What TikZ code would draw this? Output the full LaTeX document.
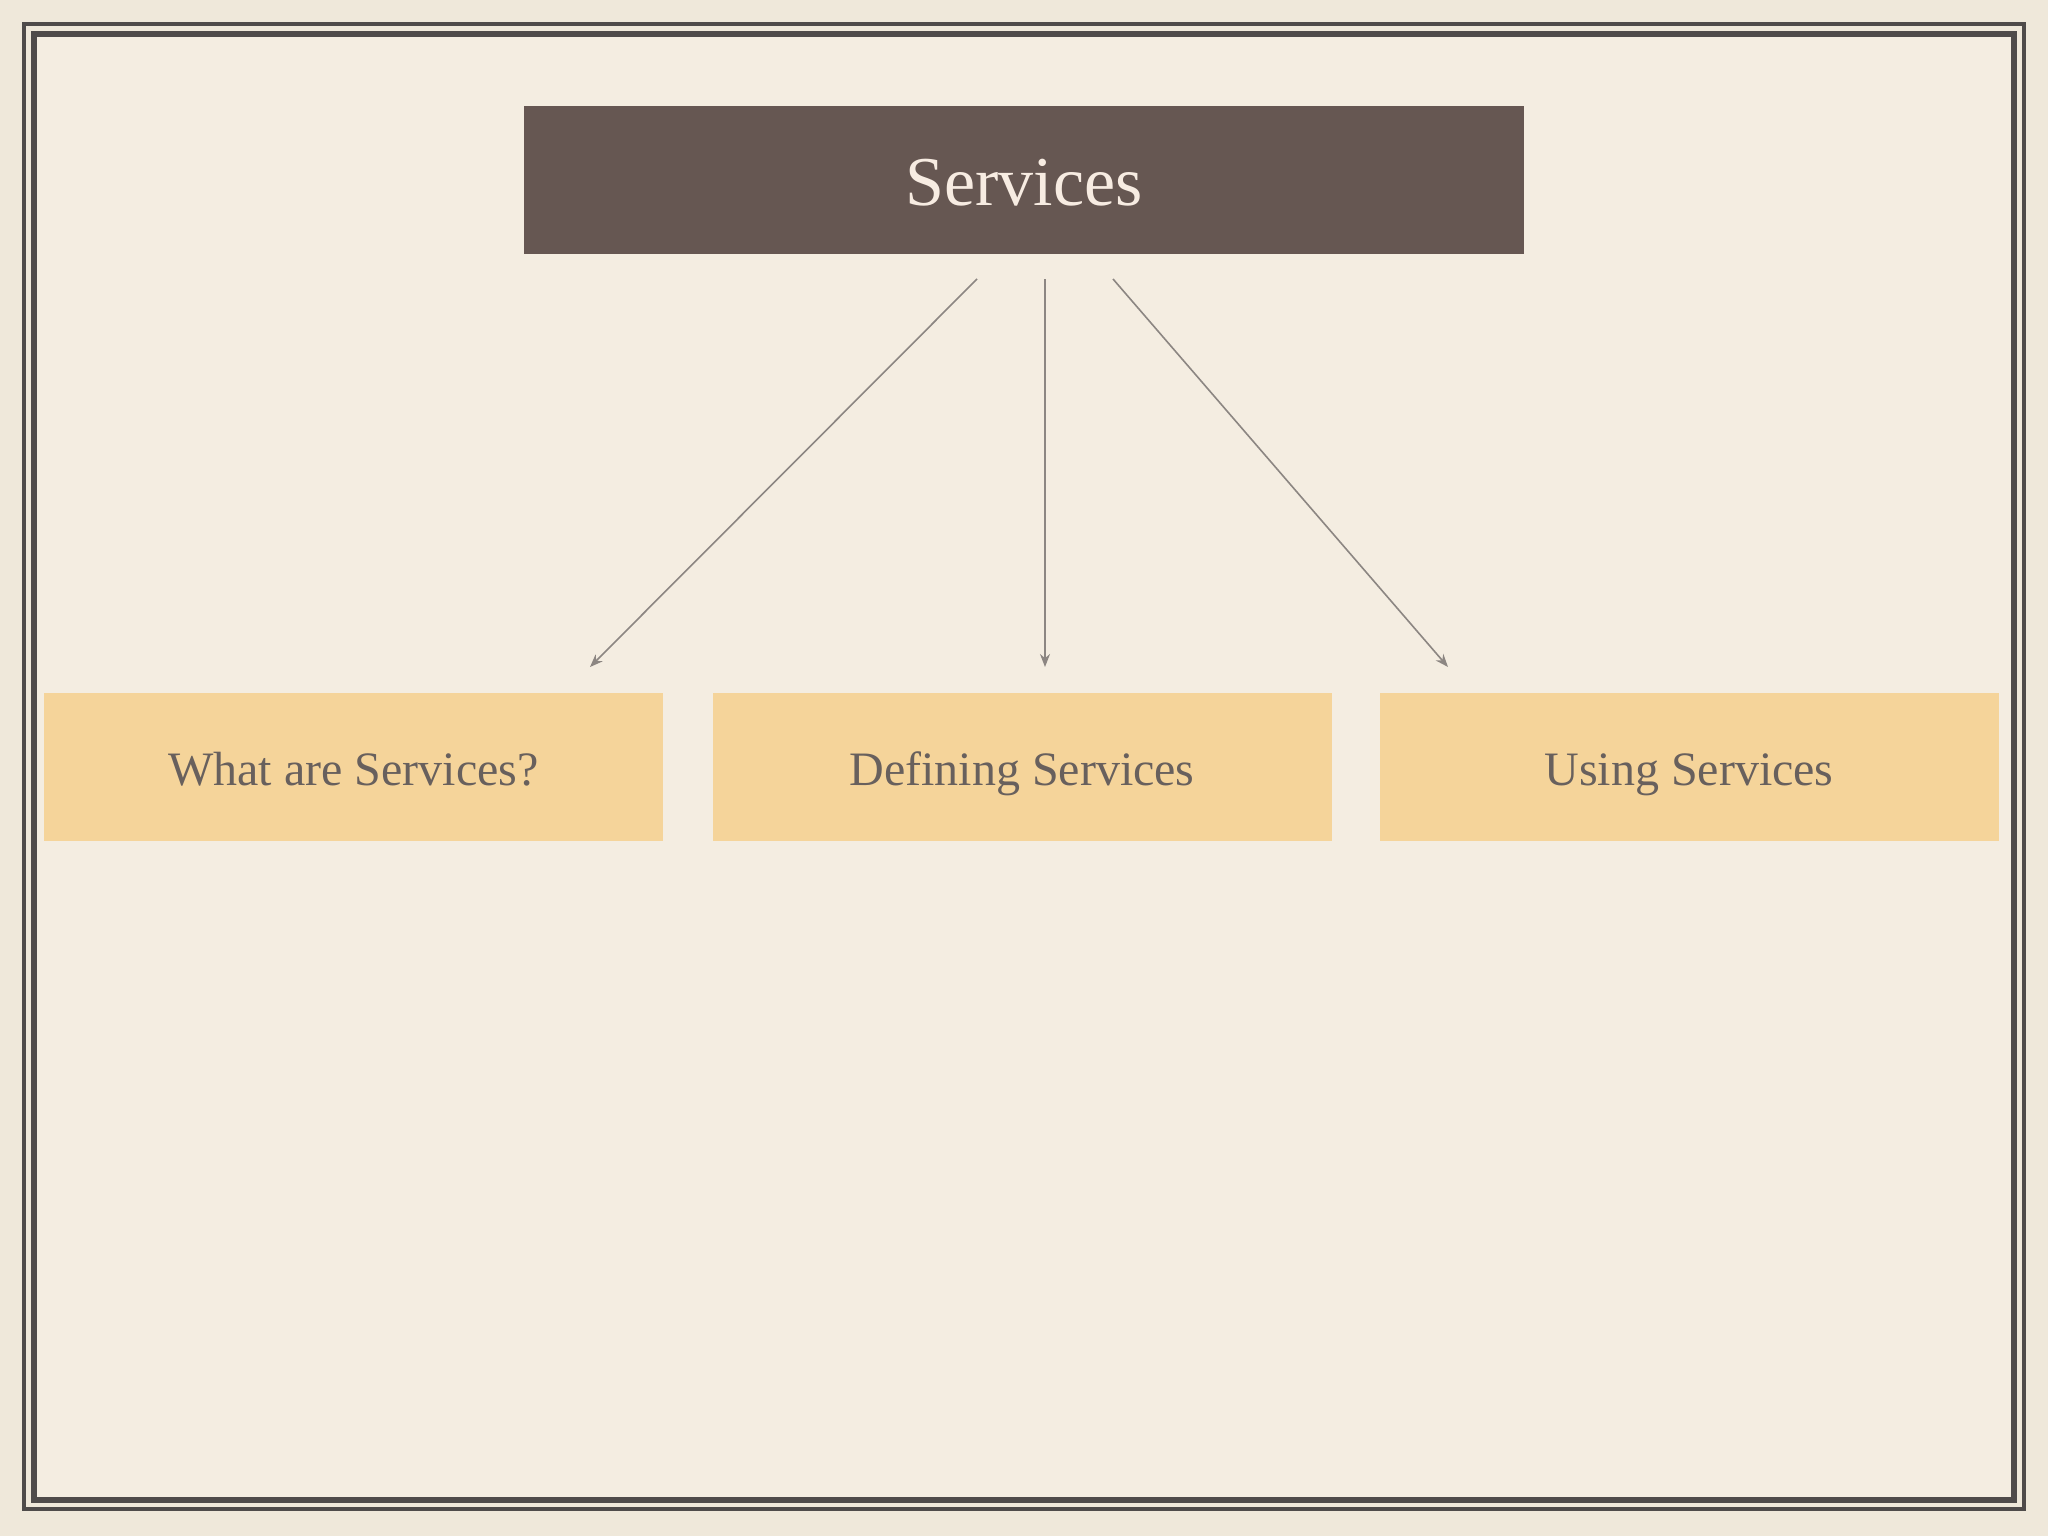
\documentclass[tikz,border=0pt]{standalone}
\usepackage{fontspec}
\setmainfont{Liberation Serif}
\usetikzlibrary{arrows.meta}
\definecolor{paper}{HTML}{F4EDE1}
\definecolor{paperout}{HTML}{EFE8DA}
\definecolor{framec}{HTML}{4F4B4A}
\definecolor{topfill}{HTML}{665752}
\definecolor{toptext}{HTML}{F7ECE2}
\definecolor{subfill}{HTML}{F5D49A}
\definecolor{subtext}{HTML}{68605D}
\definecolor{arrowc}{HTML}{8C8682}
\tikzset{
  topbox/.style={fill=topfill, inner sep=0pt, minimum width=1000pt, minimum height=148pt,
    text=toptext, font=\fontsize{70}{80}\selectfont, text height=50pt, text depth=0pt},
  subbox/.style={fill=subfill, inner sep=0pt, minimum width=619pt, minimum height=148pt,
    text=subtext, font=\fontsize{48}{56}\selectfont, text height=36pt, text depth=0pt},
  conn/.style={draw=arrowc, line width=1.6pt, -{Stealth[length=13pt,width=10pt]}},
  frameline/.style={draw=framec}
}
\begin{document}
\begin{tikzpicture}[x=1pt,y=-1pt]
\useasboundingbox (0,0) rectangle (2048,1536);
\fill[paperout] (0,0) rectangle (2048,1536);
\fill[paper] (34,34) rectangle (2014,1500);
\draw[frameline, line width=4pt] (24,24) rectangle (2024,1509);
\draw[frameline, line width=6pt] (34,34) rectangle (2014,1500);

\node[topbox] (top) at (1024,180) {Services};
\node[subbox] (b1) at (353.5,767) {What are Services?};
\node[subbox] (b2) at (1022,767) {Defining Services};
\node[subbox] (b3) at (1689,767) {Using Services};

\coordinate (s1) at (977,279);
\coordinate (s2) at (1045,279);
\coordinate (s3) at (1113,279);
\coordinate (e1) at (590,667);
\coordinate (e2) at (1045,667);
\coordinate (e3) at (1448,667);

\draw[conn] (s1) -- (e1);
\draw[conn] (s2) -- (e2);
\draw[conn] (s3) -- (e3);
\end{tikzpicture}
\end{document}
